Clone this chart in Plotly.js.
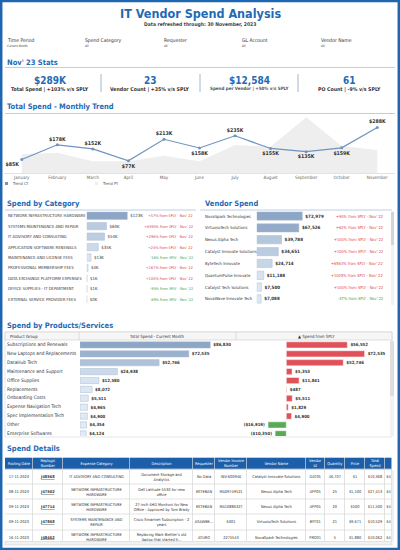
<!DOCTYPE html>
<html><head><meta charset="utf-8">
<script src="https://cdn.plot.ly/plotly-3.0.1.min.js"></script>
<style>html,body{margin:0;padding:0;background:#fff;overflow:hidden}#chart{width:400px;height:550px}</style>
</head><body><div id="chart"></div>
<script>
// ---------- DATA ----------
const filterNames = ['Time Period','Spend Category','Requester','GL Account','Vendor Name'];
const filterValues = ['Current Month','All','All','All','All'];

const kpiValues = ['$289K','23','$12,584','61'];
const kpiLabels = ['Total Spend | +103% v/s SPLY','Vendor Count | +35% v/s SPLY','Spend per Vendor | +50% v/s SPLY','PO Count | -9% v/s SPLY'];

const months = ['January','February','March','April','May','June','July','August','September','October','November'];
const trendCY = [85,178,152,77,213,158,235,155,135,159,288];
const trendPY = [118,128,75,75,109,75,177,166,352,170,145];

const categories = ['NETWORK INFRASTRUCTURE HARDWARE','SYSTEMS MAINTENANCE AND REPAIR','IT ADVISORY AND CONSULTING','APPLICATION SOFTWARE RENEWALS','MAINTENANCE AND LICENSE FEES','PROFESSIONAL MEMBERSHIP FEES','DATA EXCHANGE PLATFORM EXPENSES','OFFICE SUPPLIES - IT DEPARTMENT','EXTERNAL SERVICE PROVIDER FEES'];
const categorySpendK = [123,60,54,35,13,4,1,1,0];
const categoryChange = [57,8390,296,24,-16,167,100,-93,-89];

const vendors = ['NovaSpark Technologies','VirtuosoTech Solutions','Nexus Alpha Tech','Catalyst Innovate Solutions','ByteTech Innovate','QuantumPulse Innovate','Catalyst Tech Solutions','NovaWave Innovate Tech'];
const vendorSpend = [72979,67526,39788,34651,24714,11188,7500,7088];
const vendorChange = [90,62,100,100,6563,1005,100,-47];

const products = ['Subscriptions and Renewals','New Laptops and Replacements','DataHub Tech','Maintenance and Support','Office Supplies','Replacements','Onboarding Costs','Expense Navigation Tech','Spec Implementation Tech','Other','Enterprise Softwares'];
const productSpend = [86830,72535,52746,24938,12580,8072,5511,4965,4900,4354,4124];
const productChange = [56552,72535,52746,5353,11841,487,5511,1829,4900,-16919,-10350];

const tableHeaders = ['Posting Date','Replogic<br>Number','Expense Category','Description','Requester','Vendor Invoice<br>Number','Vendor Name','Vendor<br>Id','Quantity','Price','Total<br>Spend',''];
const postingDates = ['17-11-2023','08-11-2023','09-11-2023','09-11-2023','16-11-2023'];
const replogicNumbers = ['J48568','J47502','J47714','J47868','J48462'];
const expenseCategories = ['IT ADVISORY AND CONSULTING','NETWORK INFRASTRUCTURE<br>HARDWARE','NETWORK INFRASTRUCTURE<br>HARDWARE','SYSTEMS MAINTENANCE AND<br>REPAIR','NETWORK INFRASTRUCTURE<br>HARDWARE'];
const descriptions = ['Document Storage and<br>Analytics','Dell Latitude 5530 for new<br>office','27-inch 4HD Monitors for New<br>Office - Approved by Tom Brady','Cisco Smartnet Subscription - 2<br>years',"Replacing Mark Biehler's old<br>laptop that started h..."];
const requesters = ['No Data','ESTEBAN','ESTEBAN','ASAWBE...','ATURO'];
const invoiceNumbers = ['INV-600946','MA09749521','MA10886327','6301','2275543'];
const vendorNames = ['Catalyst Innovate Solutions','Nexus Alpha Tech','Nexus Alpha Tech','VirtuosoTech Solutions','NovaSpark Technologies'];
const vendorIds = ['DAT05','APP05','APP05','BYT01','PRO01'];
const quantities = ['46,707','25','20','21','5'];
const prices = ['$1','$1,100','$500','$9,671','$1,880'];
const totalSpend = ['$10,368','$27,413','$11,500','$10,529','$10,062'];
const nextColumn = ['$4','$4','$4','$4','$4'];

// ---------- HELPERS ----------
const W = 400, H = 550;
const X = x => x / W;
const Y = y => 1 - y / H;
const FONT = "'DejaVu Sans Condensed', 'Liberation Sans Narrow', Roboto, sans-serif";
const BLUE = '#1f6ab4';
const DARK = '#333333';
const RED = '#e0434c';
const GREEN = '#45a049';
const fmt = v => '$' + Math.abs(v).toLocaleString('en-US');
const pctText = v => (v >= 0 ? '+' : '') + v + "% from SPLY - Nov' 22";

const annotations = [];
const shapes = [];
function txt(x, y, text, size, color, opts) {
  annotations.push(Object.assign({xref:'paper', yref:'paper', x:X(x), y:Y(y), text:text, showarrow:false,
    xanchor:'left', yanchor:'middle', font:{family:FONT, size:size, color:color}}, opts || {}));
}
function line(x0, y0, x1, y1, color, width) {
  shapes.push({type:'line', xref:'paper', yref:'paper', x0:X(x0), y0:Y(y0), x1:X(x1), y1:Y(y1), line:{color:color, width:width}});
}
function rect(x0, y0, x1, y1, fill, lc, lw) {
  shapes.push({type:'rect', xref:'paper', yref:'paper', x0:X(x0), y0:Y(y1), x1:X(x1), y1:Y(y0), fillcolor:fill, line:{color:lc || fill, width:lw === undefined ? 0 : lw}, layer:'below'});
}

// ---------- HEADER ----------
txt(200, 13, '<b>IT Vendor Spend Analysis</b>', 12.5, BLUE, {xanchor:'center'});
txt(200, 25, '<b>Data refreshed through: 30 November, 2023</b>', 5, '#444', {xanchor:'center'});
const filterX = [5, 83, 162, 240, 319];
filterNames.forEach((n, i) => {
  txt(filterX[i], 40, n, 5, DARK);
  txt(filterX[i], 46, filterValues[i], 3.2, DARK);
});

// ---------- KPI ----------
txt(5, 62, "<b>Nov' 23 Stats</b>", 7.5, BLUE);
line(5, 67.5, 395, 67.5, '#b9d0e8', 1);
const kpiX = [50, 150, 249, 349];
kpiValues.forEach((v, i) => {
  txt(kpiX[i], 80, '<b>' + v + '</b>', 10, BLUE, {xanchor:'center'});
  txt(kpiX[i], 89, '<b>' + kpiLabels[i] + '</b>', i === 2 ? 4.5 : 5.2, i === 2 ? '#555' : DARK, {xanchor:'center'});
});
[101, 200, 298].forEach(x => line(x, 74, x, 92, '#9fb8d3', 1));

// ---------- TREND ----------
txt(5, 106, '<b>Total Spend - Monthly Trend</b>', 7.5, BLUE);
line(5, 113.5, 395, 113.5, '#b9d0e8', 1);
rect(5, 182, 8, 185, '#6f93bd');
txt(10, 183.5, 'Trend CY', 4, '#555');
rect(95, 182, 98, 185, '#eeeeee');
txt(100, 183.5, 'Trend PY', 4, '#555');
const labelPos = ['bottom left','top center','top center','bottom center','top center','bottom center','top center','bottom center','bottom center','bottom center','top center'];

// ---------- CATEGORY / VENDOR ----------
txt(5, 203, '<b>Spend by Category</b>', 7.5, BLUE);
txt(203, 203, '<b>Vendor Spend</b>', 7.5, BLUE);
line(5, 210, 196, 210, '#b9d0e8', 1);
line(200, 210, 392, 210, '#b9d0e8', 1);
rect(391, 211, 394, 305, '#f2f2f2');
rect(391, 212, 394, 245, '#d4d4d4');

categories.forEach((c, i) => {
  annotations.push({xref:'paper', yref:'y2', x:X(6), y:c, text:c, showarrow:false, xanchor:'left', yanchor:'middle', font:{family:FONT, size:4.2, color:DARK}});
  annotations.push({xref:'paper', yref:'y2', x:X(195), y:c, text:pctText(categoryChange[i]), showarrow:false, xanchor:'right', yanchor:'middle', font:{family:FONT, size:3.8, color:categoryChange[i] >= 0 ? RED : GREEN}});
});
vendors.forEach((c, i) => {
  annotations.push({xref:'paper', yref:'y3', x:X(203), y:c, text:c, showarrow:false, xanchor:'left', yanchor:'middle', font:{family:FONT, size:4.2, color:DARK}});
  annotations.push({xref:'paper', yref:'y3', x:X(385), y:c, text:pctText(vendorChange[i]), showarrow:false, xanchor:'right', yanchor:'middle', font:{family:FONT, size:4, color:vendorChange[i] >= 0 ? RED : GREEN}});
});

// ---------- PRODUCTS ----------
txt(5, 325, '<b>Spend by Products/Services</b>', 7.5, BLUE);
rect(5, 332, 392, 437, 'rgba(0,0,0,0)', '#d6d6d6', 0.6);
rect(5, 332, 392, 340, '#f6f6f6', '#cfcfcf', 0.6);
line(79, 332, 79, 340, '#cfcfcf', 0.6);
line(236, 332, 236, 340, '#cfcfcf', 0.6);
txt(8, 336, 'Product Group', 4.3, DARK);
txt(157, 336, 'Total Spend - Current Month', 4.3, DARK, {xanchor:'center'});
txt(316, 336, '\u25B2 Spend from SPLY', 4.3, DARK, {xanchor:'center'});
rect(390, 341, 394, 436, '#f2f2f2');
rect(390, 341, 394, 396, '#dedede');

// ---------- DETAILS (table grid on its own axes) ----------
txt(5, 448, '<b>Spend Details</b>', 7.5, BLUE);
const colWidths = [27.7, 30.3, 67, 63, 22, 32, 58.7, 19, 20.3, 20, 20, 7];
const colEdges = [0];
colWidths.forEach(w => colEdges.push(colEdges[colEdges.length - 1] + w));
const colCenters = colWidths.map((w, i) => colEdges[i] + w / 2);
const tableCols = [postingDates, replogicNumbers.map(v => '<b><u>' + v + '</u></b>'), expenseCategories, descriptions, requesters, invoiceNumbers, vendorNames, vendorIds, quantities, prices, totalSpend, nextColumn];
const headerH = 0.82;
const rowEdges = [0, headerH];
postingDates.forEach(() => rowEdges.push(rowEdges[rowEdges.length - 1] + 1));
const rowCenters = postingDates.map((d, i) => headerH + i + 0.5);
const cellZ = rowEdges.slice(0, -1).map((e, r) => colWidths.map(() => r === 0 ? 1 : 0));
const tableTotal = colEdges[colEdges.length - 1];
shapes.push({type:'rect', xref:'x7', yref:'y7', x0:0, x1:tableTotal, y0:0, y1:rowEdges[rowEdges.length - 1], fillcolor:'#d6d6d6', line:{width:0}, layer:'below'});
rect(391, 470, 394, 541, '#f0f0f0');
rect(5, 541.5, 392, 545, '#f1f1f1', '#cccccc', 0.5);

// frame
shapes.push({type:'rect', xref:'paper', yref:'paper', x0:0.003, y0:0.002, x1:0.997, y1:0.998, line:{color:'#1f66b1', width:2.5}});

// ---------- TRACES ----------
const colorScale = [[0, '#e5eef8'], [1, '#8da6c6']];
const traces = [
  {type:'scatter', x:months, y:trendPY, mode:'lines', fill:'tozeroy', fillcolor:'#eeeeee', line:{width:0, color:'#eeeeee'}, xaxis:'x', yaxis:'y', hoverinfo:'skip', showlegend:false},
  {type:'scatter', x:months, y:trendCY, mode:'lines+markers+text', line:{color:'#6f93bd', width:1.2}, marker:{size:3, color:'#6f93bd'},
   text:trendCY.map(v => '<b>$' + v + 'K</b>'), textposition:labelPos, textfont:{family:FONT, size:5.2, color:DARK},
   xaxis:'x', yaxis:'y', cliponaxis:false, showlegend:false},
  {type:'bar', orientation:'h', x:categorySpendK, y:categories, xaxis:'x2', yaxis:'y2',
   marker:{color:categorySpendK, colorscale:colorScale, cmin:0, cmax:123, line:{color:'#a9bcd3', width:0.5}},
   text:categorySpendK.map(v => '$' + v + 'K'), textposition:'outside', textfont:{family:FONT, size:4.3, color:DARK}, constraintext:'none', cliponaxis:false, showlegend:false},
  {type:'bar', orientation:'h', x:vendorSpend, y:vendors, xaxis:'x3', yaxis:'y3',
   marker:{color:vendorSpend, colorscale:colorScale, cmin:0, cmax:72979, line:{color:'#a9bcd3', width:0.5}},
   text:vendorSpend.map(v => '<b>' + fmt(v) + '</b>'), textposition:'outside', textfont:{family:FONT, size:4.5, color:DARK}, constraintext:'none', cliponaxis:false, showlegend:false},
  {type:'scatter', mode:'text', x:products.map(() => 0), y:products, xaxis:'x6', yaxis:'y6', text:products, textposition:'middle right',
   textfont:{family:FONT, size:4.8, color:DARK}, cliponaxis:true, showlegend:false, hoverinfo:'skip'},
  {type:'bar', orientation:'h', x:productSpend, y:products, xaxis:'x4', yaxis:'y4',
   marker:{color:productSpend, colorscale:colorScale, cmin:0, cmax:86830, line:{color:'#a9bcd3', width:0.5}},
   text:productSpend.map(v => '<b>' + fmt(v) + '</b>'), textposition:'outside', textfont:{family:FONT, size:4.3, color:DARK}, constraintext:'none', cliponaxis:true, showlegend:false},
  {type:'bar', orientation:'h', x:productChange, y:products, xaxis:'x5', yaxis:'y5',
   marker:{color:productChange.map(v => v >= 0 ? '#e0525a' : '#5aaa55'), line:{color:'#ffffff', width:0.5}},
   text:productChange.map(v => '<b>' + (v < 0 ? '(' + fmt(v) + ')' : fmt(v)) + '</b>'), textposition:'outside', textfont:{family:FONT, size:4.3, color:DARK}, constraintext:'none', cliponaxis:true, showlegend:false},
  {type:'heatmap', x:colEdges, y:rowEdges, z:cellZ, zmin:0, zmax:1, colorscale:[[0, '#ffffff'], [1, '#1b5ea9']], showscale:false,
   xgap:0.7, ygap:0.7, xaxis:'x7', yaxis:'y7', hoverinfo:'skip'},
  {type:'scatter', mode:'text', x:colCenters, y:colCenters.map(() => headerH / 2), text:tableHeaders, textposition:'middle center',
   textfont:{family:FONT, size:3.9, color:'#ffffff'}, xaxis:'x7', yaxis:'y7', cliponaxis:true, showlegend:false, hoverinfo:'skip'}
];
tableCols.forEach((col, j) => {
  traces.push({type:'scatter', mode:'text', x:col.map(() => colCenters[j]), y:rowCenters, text:col, textposition:'middle center',
    textfont:{family:FONT, size:3.9, color:DARK}, xaxis:'x7', yaxis:'y7', cliponaxis:true, showlegend:false, hoverinfo:'skip'});
});

const hidden = {visible:false, fixedrange:true};
const layout = {
  width:W, height:H, margin:{l:0, r:0, t:0, b:0}, paper_bgcolor:'#ffffff', plot_bgcolor:'rgba(0,0,0,0)',
  showlegend:false, font:{family:FONT}, bargap:0.3,
  xaxis:{domain:[X(4), X(395)], range:[-0.5, 10.5], type:'category', showgrid:false, showline:true, linecolor:'#e2e2e2', ticks:'', tickfont:{family:FONT, size:4.5, color:'#666'}, anchor:'y', fixedrange:true},
  yaxis:Object.assign({domain:[Y(173), Y(116)], range:[0, 360], anchor:'x'}, hidden),
  xaxis2:Object.assign({domain:[X(86.7), X(140)], range:[0, 161.5], anchor:'y2'}, hidden),
  yaxis2:Object.assign({domain:[Y(304.5), Y(210.5)], range:[8.5, -0.5], type:'category', anchor:'x2'}, hidden),
  xaxis3:Object.assign({domain:[X(256.7), X(330)], range:[0, 117310], anchor:'y3'}, hidden),
  yaxis3:Object.assign({domain:[Y(304.9), Y(210.1)], range:[7.5, -0.5], type:'category', anchor:'x3'}, hidden),
  xaxis4:Object.assign({domain:[X(80), X(236)], range:[0, 104000], anchor:'y4'}, hidden),
  yaxis4:Object.assign({domain:[Y(436), Y(340.5)], range:[10.24, -0.5], type:'category', anchor:'x4'}, hidden),
  xaxis5:Object.assign({domain:[X(238), X(389)], range:[-44722, 95093], anchor:'y5'}, hidden),
  yaxis5:Object.assign({domain:[Y(436), Y(340.5)], range:[10.24, -0.5], type:'category', anchor:'x5'}, hidden),
  xaxis6:Object.assign({domain:[X(7), X(79)], range:[0, 1], anchor:'y6'}, hidden),
  yaxis6:Object.assign({domain:[Y(436), Y(340.5)], range:[10.24, -0.5], type:'category', anchor:'x6'}, hidden),
  xaxis7:Object.assign({domain:[X(5), X(392)], range:[0, tableTotal], anchor:'y7'}, hidden),
  yaxis7:Object.assign({domain:[Y(541), Y(457.5)], range:[5.55, 0], anchor:'x7'}, hidden),
  annotations:annotations, shapes:shapes
};
Plotly.newPlot('chart', traces, layout, {displayModeBar:false, staticPlot:true});
</script></body></html>
